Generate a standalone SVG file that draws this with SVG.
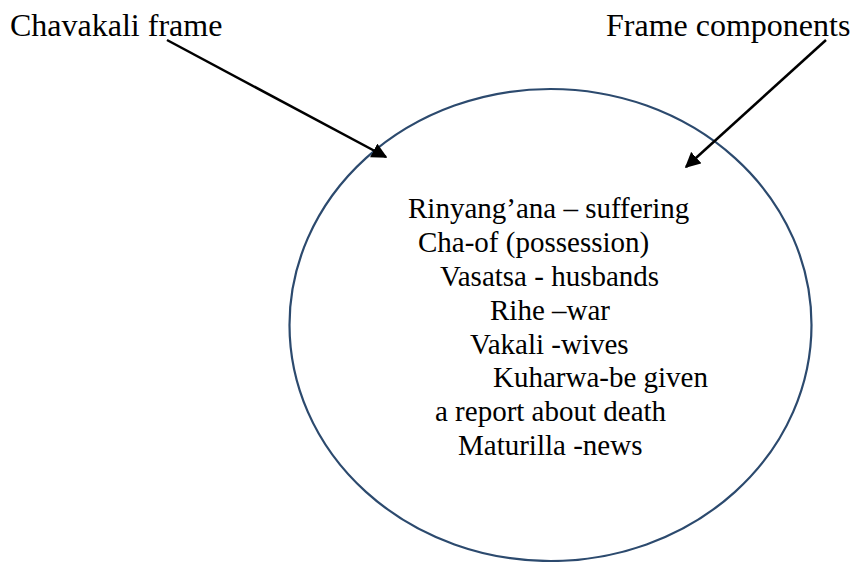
<svg xmlns="http://www.w3.org/2000/svg" width="853" height="562" viewBox="0 0 853 562">
  <style>
    .label { font-size: 32px; }
    .item { font-size: 29px; }
    .frame { fill: none; stroke: #2c4a6e; stroke-width: 2.2; }
    .pointer { stroke: #000; stroke-width: 2.5; fill: none; }
  </style>
  <defs>
    <marker id="head" viewBox="0 0 10 10" refX="9" refY="5" markerWidth="6.2" markerHeight="6.2" orient="auto" markerUnits="strokeWidth">
      <path d="M0,0 L10,5 L0,10 z" fill="#000"/>
    </marker>
  </defs>

  <rect width="853" height="562" fill="#fff"/>

  <g id="frame-ellipse">
    <ellipse class="frame" cx="550.5" cy="325" rx="261" ry="236"/>
  </g>

  <g font-family="Liberation Serif, serif" fill="#000">
    <g id="label-chavakali">
      <text class="label" x="10" y="36">Chavakali frame</text>
    </g>

    <g id="label-components">
      <text class="label" x="606" y="36">Frame components</text>
    </g>

    <g id="components-list">
      <text class="item" x="408" y="218">Rinyang’ana – suffering</text>
      <text class="item" x="418" y="252">Cha-of (possession)</text>
      <text class="item" x="440" y="286">Vasatsa - husbands</text>
      <text class="item" x="490" y="320">Rihe –war</text>
      <text class="item" x="470" y="354">Vakali -wives</text>
      <text class="item" x="493" y="387">Kuharwa-be given</text>
      <text class="item" x="435" y="421">a report about death</text>
      <text class="item" x="458" y="455">Maturilla -news</text>
    </g>
  </g>

  <g id="connectors">
    <line class="pointer" x1="167" y1="40" x2="386" y2="157" marker-end="url(#head)"/>
    <line class="pointer" x1="826" y1="40" x2="686" y2="167" marker-end="url(#head)"/>
  </g>
</svg>
